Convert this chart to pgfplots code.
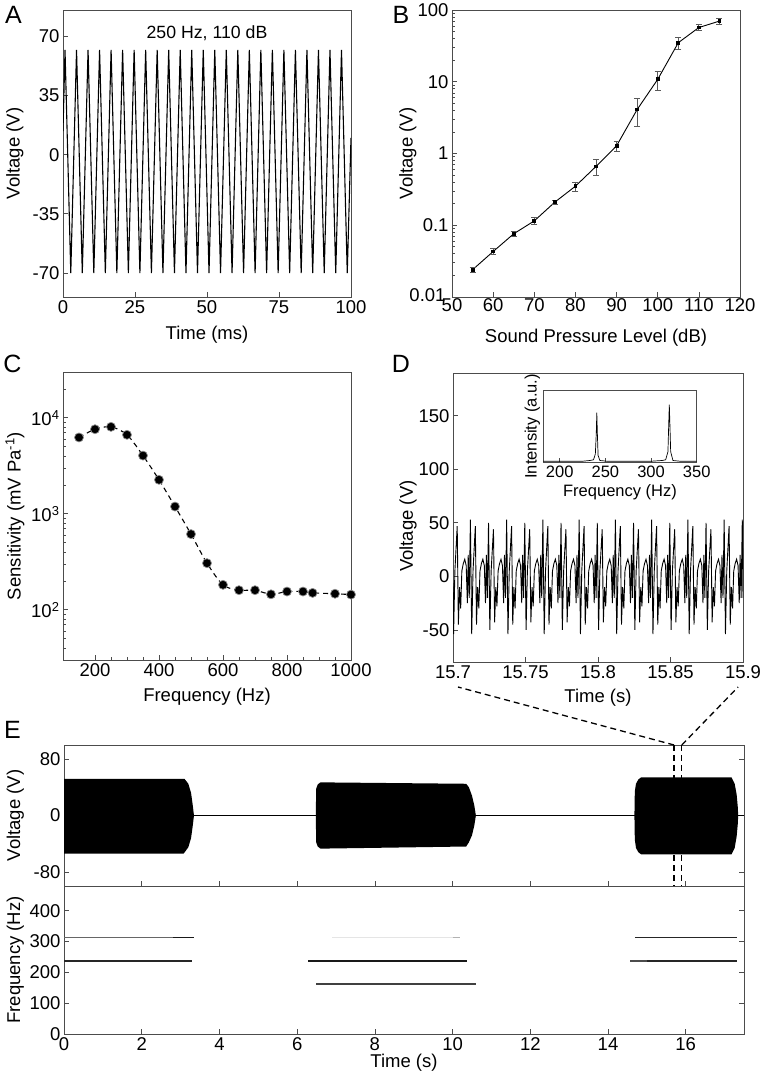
\documentclass[border=0pt]{standalone}
\usepackage{fontspec}
\setmainfont{Liberation Sans}
\usepackage{pgfplots}
\pgfplotsset{compat=1.18}
\usepackage{pgfplotstable}
\newcommand{\fs}{\fontsize{18.5}{22}\selectfont}
\newcommand{\fsi}{\fontsize{16.5}{19}\selectfont}
\pgfplotsset{
  myax/.style={
    scale only axis, anchor=south west,
    axis line style={draw=black!70, line width=0.8pt},
    every tick/.style={black!70, line width=0.7pt},
    major tick length=5pt, minor tick length=3pt,
    tick align=inside, tick pos=left,
    tick label style={font=\fs},
    label style={font=\fs},
    /pgf/number format/assume math mode=true,
    /pgf/number format/1000 sep={},
  }
}
\pgfplotstableread{
t v
0 -6
0.4 -54
1.3 5
2.9 47
3.7 -45
4.5 -10
5.3 -30
6.1 5
7.1 12
8.1 16
9.1 10
9.9 -25
10.5 20
11.2 -20
12.0 53
12.9 -54
13.8 5
15.4 47
16.2 -45
17.0 -10
17.8 -30
18.6 5
19.6 12
20.6 16
21.6 10
22.4 -25
23.0 20
23.7 -20
24.5 50
25.4 -50
26.3 5
27.9 44
28.7 -43
29.5 -10
30.3 -28
31.1 5
32.1 12
33.1 16
34.1 10
34.9 -25
35.5 20
36.2 -20
37.0 53
37.9 -54
38.8 5
40.4 47
41.2 -45
42.0 -10
42.8 -30
43.6 5
44.6 12
45.6 16
46.6 10
47.4 -25
48.0 20
48.7 -20
49.5 50
50.4 -50
51.3 5
52.9 44
53.7 -43
54.5 -10
55.3 -28
56.1 5
57.1 12
58.1 16
59.1 10
59.9 -25
60.5 20
61.2 -20
62.0 53
62.9 -54
63.8 5
65.4 47
66.2 -45
67.0 -10
67.8 -30
68.6 5
69.6 12
70.6 16
71.6 10
72.4 -25
73.0 20
73.7 -20
74.5 50
75.4 -50
76.3 5
77.9 44
78.7 -43
79.5 -10
80.3 -28
81.1 5
82.1 12
83.1 16
84.1 10
84.9 -25
85.5 20
86.2 -20
87.0 53
87.9 -54
88.8 5
90.4 47
91.2 -45
92.0 -10
92.8 -30
93.6 5
94.6 12
95.6 16
96.6 10
97.4 -25
98.0 20
98.7 -20
99.5 50
100.4 -50
101.3 5
102.9 44
103.7 -43
104.5 -10
105.3 -28
106.1 5
107.1 12
108.1 16
109.1 10
109.9 -25
110.5 20
111.2 -20
112.0 53
112.9 -54
113.8 5
115.4 47
116.2 -45
117.0 -10
117.8 -30
118.6 5
119.6 12
120.6 16
121.6 10
122.4 -25
123.0 20
123.7 -20
124.5 50
125.4 -50
126.3 5
127.9 44
128.7 -43
129.5 -10
130.3 -28
131.1 5
132.1 12
133.1 16
134.1 10
134.9 -25
135.5 20
136.2 -20
137.0 53
137.9 -54
138.8 5
140.4 47
141.2 -45
142.0 -10
142.8 -30
143.6 5
144.6 12
145.6 16
146.6 10
147.4 -25
148.0 20
148.7 -20
149.5 50
150.4 -50
151.3 5
152.9 44
153.7 -43
154.5 -10
155.3 -28
156.1 5
157.1 12
158.1 16
159.1 10
159.9 -25
160.5 20
161.2 -20
162.0 53
162.9 -54
163.8 5
165.4 47
166.2 -45
167.0 -10
167.8 -30
168.6 5
169.6 12
170.6 16
171.6 10
172.4 -25
173.0 20
173.7 -20
174.5 50
175.4 -50
176.3 5
177.9 44
178.7 -43
179.5 -10
180.3 -28
181.1 5
182.1 12
183.1 16
184.1 10
184.9 -25
185.5 20
186.2 -20
187.0 53
187.9 -54
188.8 5
190.4 47
191.2 -45
192.0 -10
192.8 -30
193.6 5
194.6 12
195.6 16
196.6 10
197.4 -25
198.0 20
198.7 -20
199.5 53
200 -20
}\dtab
\pgfplotstableread{
x y e
55 0.024 0.002
60 0.043 0.004
65 0.076 0.005
70 0.115 0.012
75 0.21 0.012
80 0.35 0.05
85 0.66 0.16
90 1.28 0.2
95 4.1 1.7
100 10.8 3.2
105 35 7
110 57 5
115 70 6
}\btab
\pgfplotstableread{
f s
150 6240
200 7600
250 8050
300 6650
350 4040
400 2260
450 1190
500 614
550 306
600 182
650 160
700 160
750 145
800 155
850 155
880 150
950 147
1000 144
}\ctab
\begin{document}
\begin{tikzpicture}
\useasboundingbox (0,0) rectangle (763pt,1076pt);
% ---------------- A
\begin{axis}[myax, at={(63pt,779pt)}, width=288pt, height=287pt,
  xmin=0, xmax=100, ymin=-84.2, ymax=85.6,
  xtick={0,25,50,75,100}, ytick={-70,-35,0,35,70},
  xlabel={Time (ms)}, ylabel={Voltage (V)},
  xlabel style={at={(axis description cs:0.5,-0.13)}, anchor=center},
  ylabel style={at={(axis description cs:-0.167,0.5)}, anchor=center}]
\addplot[black, line width=1.1pt] coordinates {
(0,14) (0.7,62) (2.7,-70) (4.7,62) (6.7,-70) (8.7,62) (10.7,-70) (12.7,62) (14.7,-70)
(16.7,62) (18.7,-70) (20.7,62) (22.7,-70) (24.7,62) (26.7,-70) (28.7,62) (30.7,-70)
(32.7,62) (34.7,-70) (36.7,62) (38.7,-70) (40.7,62) (42.7,-70) (44.7,62) (46.7,-70)
(48.7,62) (50.7,-70) (52.7,62) (54.7,-70) (56.7,62) (58.7,-70) (60.7,62) (62.7,-70)
(64.7,62) (66.7,-70) (68.7,62) (70.7,-70) (72.7,62) (74.7,-70) (76.7,62) (78.7,-70)
(80.7,62) (82.7,-70) (84.7,62) (86.7,-70) (88.7,62) (90.7,-70) (92.7,62) (94.7,-70)
(96.7,62) (98.7,-70) (100,10)};
\node[font=\fontsize{17.7}{20}\selectfont] at (axis cs:50,72) {250 Hz, 110 dB};
\end{axis}
% ---------------- B
\begin{axis}[myax, at={(452pt,779pt)}, width=288pt, height=287pt,
  ymode=log, xmin=50, xmax=120, ymin=0.01, ymax=100,
  xtick={50,60,70,80,90,100,110,120},
  xticklabel style={yshift=2pt},
  ytick={0.01,0.1,1,10,100}, yticklabels={\raisebox{4pt}{0.01\hspace{3pt}},0.1,1,10,100},
  minor ytick={0.02,0.03,0.04,0.05,0.06,0.07,0.08,0.09,0.2,0.3,0.4,0.5,0.6,0.7,0.8,0.9,2,3,4,5,6,7,8,9,20,30,40,50,60,70,80,90},
  xlabel={Sound Pressure Level (dB)}, ylabel={Voltage (V)},
  xlabel style={at={(axis description cs:0.5,-0.143)}, anchor=center},
  ylabel style={at={(axis description cs:-0.153,0.5)}, anchor=center}]
\addplot[black, line width=0.9pt, mark=square*, mark size=1.4pt,
  error bars/.cd, y dir=both, y explicit,
  error bar style={black!65, line width=0.8pt},
  error mark options={rotate=90, mark size=3pt, black!65, line width=0.8pt}]
  table[x=x, y=y, y error=e] {\btab};
\end{axis}
% ---------------- C
\begin{axis}[myax, at={(63pt,416pt)}, width=288pt, height=288pt,
  ymode=log, xmin=100, xmax=1000, ymin=30, ymax=30000,
  xtick={200,400,600,800,1000}, minor x tick num=3,
  ytick={100,1000,10000},
  yticklabels={10\textsuperscript{2},10\textsuperscript{3},10\textsuperscript{4}},
  minor ytick={40,50,60,70,80,90,200,300,400,500,600,700,800,900,2000,3000,4000,5000,6000,7000,8000,9000,20000},
  xlabel={Frequency (Hz)}, ylabel={Sensitivity (mV Pa\textsuperscript{-1})},
  xlabel style={at={(axis description cs:0.5,-0.127)}, anchor=center},
  ylabel style={at={(axis description cs:-0.167,0.5)}, anchor=center}]
\addplot[black, line width=1.1pt, dash pattern=on 5pt off 4pt, smooth] table[x=f, y=s] {\ctab};
\addplot[only marks, mark=*, mark size=4.5pt, mark options={fill=black, draw=black!45, line width=0.7pt}] table[x=f, y=s] {\ctab};
\end{axis}
% ---------------- D
\begin{axis}[myax, at={(453pt,414pt)}, width=290pt, height=289pt,
  xmin=0, xmax=200, ymin=-80, ymax=190,
  xtick={0,50,100,150,200}, xticklabels={15.7,15.75,15.8,15.85,15.9},
  ytick={-50,0,50,100,150},
  xlabel={Time (s)}, ylabel={Voltage (V)},
  xlabel style={at={(axis description cs:0.5,-0.125)}, anchor=center},
  ylabel style={at={(axis description cs:-0.155,0.47)}, anchor=center}]
\addplot[black, line width=0.9pt] table[x=t, y=v] {\dtab};
\coordinate (d1) at (axis cs:3.4,-80);
\coordinate (d2) at (axis cs:196.6,-80);
\end{axis}
% ---------------- D inset
\begin{axis}[myax, at={(543.3pt,613.3pt)}, width=153.4pt, height=72.7pt,
  xmin=182, xmax=350, ymin=0, ymax=1,
  xtick={200,250,300,350}, ytick=\empty,
  tick label style={font=\fsi}, label style={font=\fsi},
  xlabel={Frequency (Hz)}, ylabel={Intensity (a.u.)},
  xlabel style={at={(axis description cs:0.5,-0.40)}, anchor=center},
  ylabel style={at={(axis description cs:-0.072,0.5)}, anchor=center}]
\addplot[black, line width=0.7pt] coordinates {
(182,0.02) (200,0.02) (225,0.02) (233,0.03) (237,0.04) (239,0.12) (240,0.40) (240.6,0.69)
(241.2,0.40) (242,0.10) (244,0.03) (252,0.02) (300,0.02) (312,0.03) (316,0.04) (318.5,0.15)
(319.4,0.55) (320,0.80) (320.6,0.55) (321.5,0.15) (324,0.03) (332,0.02) (350,0.02)};
\end{axis}
% ---------------- E upper
\begin{axis}[myax, at={(64pt,190pt)}, width=680pt, height=141pt,
  xmin=0, xmax=17.5, ymin=-100, ymax=100,
  xtick={0,2,...,16}, xticklabels={}, ytick={-80,0,80},
  ytick pos=both, yticklabel pos=left, xtick pos=left,
  ylabel={Voltage (V)},
  ylabel style={at={(axis description cs:-0.0716,0.5)}, anchor=center}]
\addplot[black, line width=1.3pt] coordinates {(0,0) (17.5,0)};
\addplot[fill=black, draw=none] coordinates {
(0,52) (3.1,52) (3.2,45) (3.27,32) (3.31,16) (3.345,0) (3.31,-16) (3.27,-32) (3.2,-45) (3.08,-54) (0,-54)} -- cycle;
\addplot[fill=black, draw=none] coordinates {
(6.48,0) (6.49,38) (6.53,44) (6.6,47) (10.35,45) (10.42,40) (10.5,28) (10.56,14) (10.6,0)
(10.56,-14) (10.5,-28) (10.42,-38) (10.35,-44) (6.6,-47) (6.53,-44) (6.49,-38)} -- cycle;
\addplot[fill=black, draw=none] coordinates {
(14.68,0) (14.69,34) (14.72,45) (14.78,51) (14.85,54) (17.18,54) (17.26,45) (17.31,30) (17.34,12) (17.35,0)
(17.34,-12) (17.31,-30) (17.26,-46) (17.18,-55) (14.85,-55) (14.78,-52) (14.72,-46) (14.69,-34)} -- cycle;
\addplot[black, line width=1.3pt, dash pattern=on 6pt off 4pt] coordinates {(15.7,100) (15.7,-100)};
\addplot[black, line width=1.3pt, dash pattern=on 6pt off 4pt] coordinates {(15.9,100) (15.9,-100)};
\coordinate (e1) at (axis cs:15.7,100);
\coordinate (e2) at (axis cs:15.9,100);
\end{axis}
% ---------------- E lower
\begin{axis}[myax, at={(64pt,42pt)}, width=680pt, height=148pt,
  xmin=0, xmax=17.5, ymin=0, ymax=480,
  xtick={0,2,...,16}, ytick={0,100,200,300,400},
  ytick pos=both, yticklabel pos=left, xtick pos=left,
  xlabel={Time (s)}, ylabel={Frequency (Hz)},
  xlabel style={at={(axis description cs:0.5,-0.196)}, anchor=center},
  ylabel style={at={(axis description cs:-0.0716,0.5)}, anchor=center}]
\addplot[black!60, line width=1.8pt] coordinates {(0,313) (2.8,313)};
\addplot[black!90, line width=1.8pt] coordinates {(2.8,313) (3.35,313)};
\addplot[black!85, line width=1.8pt] coordinates {(0,237) (3.3,237)};
\addplot[black!10, line width=1.8pt] coordinates {(6.9,313) (10.0,313)};
\addplot[black!30, line width=1.8pt] coordinates {(10.0,313) (10.2,313)};
\addplot[black!90, line width=1.8pt] coordinates {(6.29,237) (10.38,237)};
\addplot[black!75, line width=1.8pt] coordinates {(6.49,162) (10.61,162)};
\addplot[black!85, line width=1.8pt] coordinates {(14.69,313) (17.33,313)};
\addplot[black!70, line width=1.8pt] coordinates {(14.57,237) (15.0,237)};
\addplot[black!85, line width=1.8pt] coordinates {(15.0,237) (17.33,237)};
\end{axis}
% connectors
\draw[black, line width=1.3pt, dash pattern=on 6pt off 4pt] (e1) -- ([yshift=-25pt]d1);
\draw[black, line width=1.3pt, dash pattern=on 6pt off 4pt] (e2) -- ([yshift=-25pt]d2);
% panel letters
\node[font=\fontsize{25}{30}\selectfont] at (13.5pt,1061pt) {A};
\node[font=\fontsize{25}{30}\selectfont] at (401pt,1061.5pt) {B};
\node[font=\fontsize{25}{30}\selectfont] at (12.5pt,712pt) {C};
\node[font=\fontsize{25}{30}\selectfont] at (401pt,712pt) {D};
\node[font=\fontsize{25}{30}\selectfont] at (12.5pt,346pt) {E};
\end{tikzpicture}
\end{document}
